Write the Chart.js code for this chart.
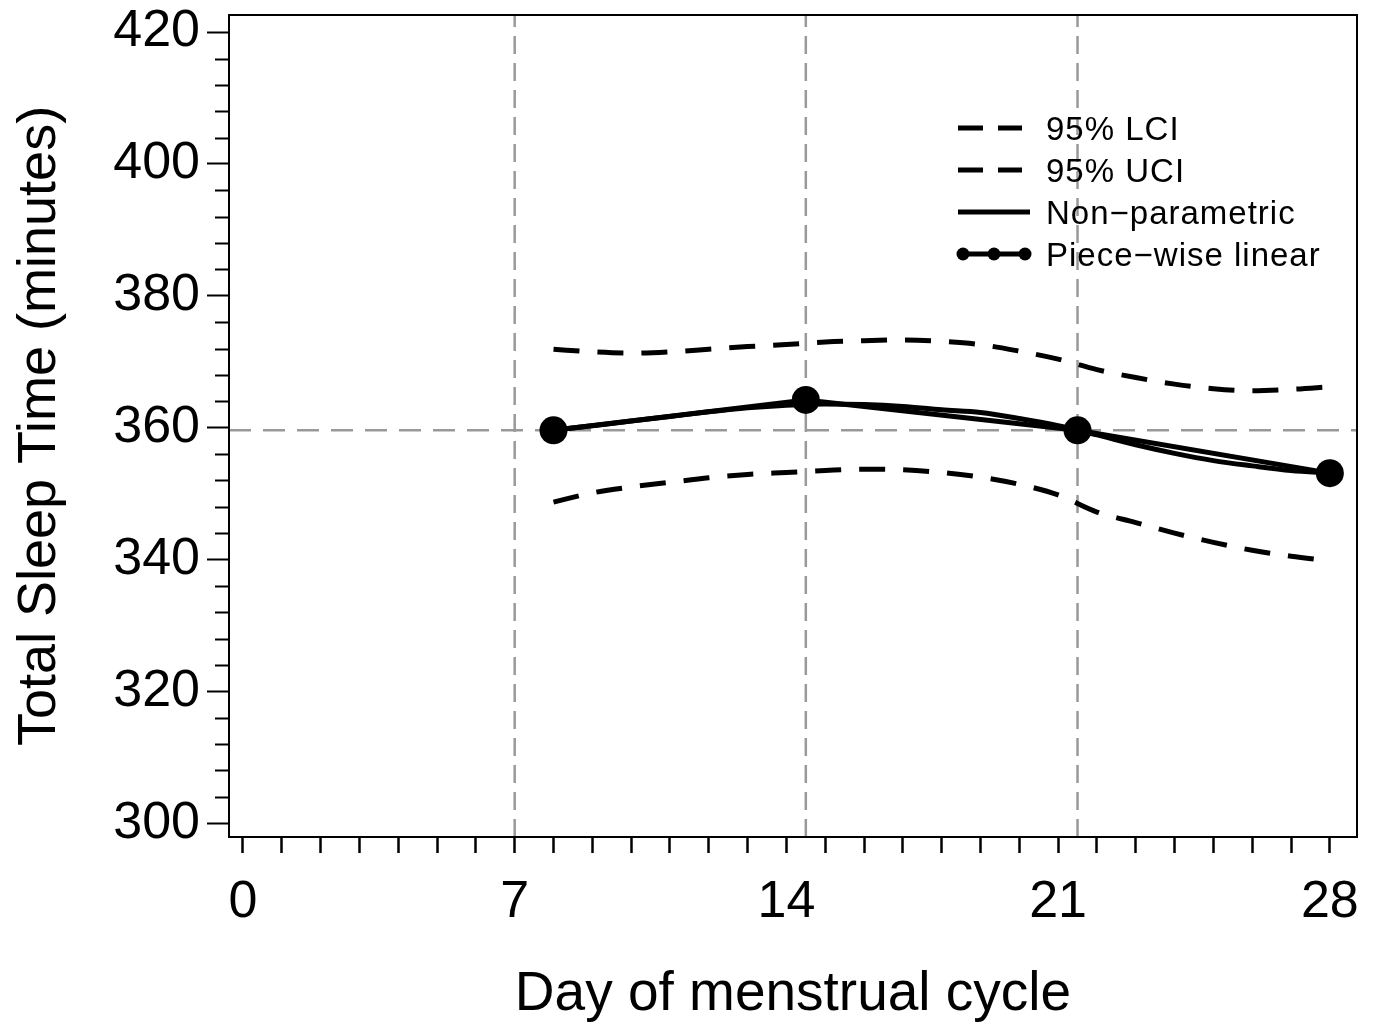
<!DOCTYPE html>
<html>
<head>
<meta charset="utf-8">
<script src="https://cdn.jsdelivr.net/npm/chart.js@4"></script>
<style>
  html, body { margin: 0; padding: 0; background: #fff; }
  #wrap { width: 1376px; height: 1032px; }
</style>
</head>
<body>
<div id="wrap"><canvas id="sleep_chart" width="1376" height="1032"></canvas></div>
<script>
// values
var cycleDays = [8, 9, 10, 11, 12, 13, 14, 15, 16, 17, 18, 19, 20, 21, 22, 23, 24, 25, 26, 27, 28];
var lowerCI = [348.7, 350.1, 351.0, 351.7, 352.4, 352.9, 353.2, 353.5, 353.7, 353.6, 353.2, 352.5, 351.4, 349.8, 347.2, 345.6, 344.0, 342.6, 341.4, 340.5, 339.8];
var upperCI = [371.9, 371.5, 371.3, 371.5, 371.9, 372.3, 372.6, 373.0, 373.2, 373.3, 373.1, 372.6, 371.6, 370.4, 368.8, 367.6, 366.6, 365.9, 365.6, 365.8, 366.2];
var nonParametric = [359.6, 360.3, 361.0, 361.7, 362.4, 363.0, 363.4, 363.6, 363.5, 363.2, 362.7, 362.3, 361.4, 360.3, 358.9, 357.4, 356.1, 355.0, 354.2, 353.5, 353.1];
var knotDays = [8, 14.5, 21.5, 28];
var pieceWise = [359.6, 364.2, 359.6, 353.1];

// reference lines
var refDays = [7, 14.5, 21.5];
var refSleep = 359.6;

// axes
var xMin = -0.36, xMax = 28.7;
var yMin = 297.9, yMax = 422.6;
var xTickValues = [];
for (var d = 0; d <= 28; d++) xTickValues.push(d);
var yTickValues = [300, 320, 340, 360, 380, 400, 420];
var yMinorValues = [];
for (var v = 300; v <= 420; v += 4) yMinorValues.push(v);

var legendLabels = ['95% LCI', '95% UCI', 'Non\u2212parametric', 'Piece\u2212wise linear'];

function toPoints(xs, ys) {
  return xs.map(function (x, i) { return { x: x, y: ys[i] }; });
}

var datasets = [];
datasets.push({ label: legendLabels[3], data: toPoints(knotDays, pieceWise), borderColor: '#000', backgroundColor: '#000',
  borderWidth: 5, pointRadius: 14, pointHoverRadius: 14, pointBackgroundColor: '#000', pointBorderWidth: 0, tension: 0, order: 1 });
datasets.push({ label: legendLabels[2], data: toPoints(cycleDays, nonParametric), borderColor: '#000', borderWidth: 5,
  pointRadius: 0, cubicInterpolationMode: 'monotone', order: 2 });
datasets.push({ label: legendLabels[0], data: toPoints(cycleDays, lowerCI), borderColor: '#000', borderWidth: 5,
  borderDash: [26, 18], pointRadius: 0, cubicInterpolationMode: 'monotone', order: 3 });
datasets.push({ label: legendLabels[1], data: toPoints(cycleDays, upperCI), borderColor: '#000', borderWidth: 5,
  borderDash: [26, 18], pointRadius: 0, cubicInterpolationMode: 'monotone', order: 4 });
refDays.forEach(function (rd) {
  datasets.push({ label: 'ref', data: [{ x: rd, y: yMin }, { x: rd, y: yMax }], borderColor: '#999', borderWidth: 2.5,
    borderDash: [18, 9], pointRadius: 0, order: 10 });
});
datasets.push({ label: 'ref', data: [{ x: xMin, y: refSleep }, { x: xMax, y: refSleep }], borderColor: '#999', borderWidth: 2.5,
  borderDash: [22, 12], pointRadius: 0, order: 10 });

// frame, minor ticks and legend
var framePlugin = {
  id: 'frame',
  afterDraw: function (chart) {
    var ctx = chart.ctx, a = chart.chartArea;
    var ys = chart.scales.y;
    ctx.save();
    ctx.strokeStyle = '#000';
    ctx.lineWidth = 2;
    ctx.strokeRect(a.left, a.top, a.right - a.left, a.bottom - a.top);
    // minor y ticks
    yMinorValues.forEach(function (mv) {
      if (mv % 20 === 0) return;
      var py = Math.round(ys.getPixelForValue(mv)) + 0.5;
      ctx.beginPath();
      ctx.moveTo(a.left - 14, py);
      ctx.lineTo(a.left, py);
      ctx.stroke();
    });

    // legend
    var rows = [128, 170, 212, 254];
    var x0 = 958, x1 = 1030, tx = 1046;
    ctx.lineWidth = 5;
    ctx.lineCap = 'butt';
    ctx.setLineDash([25, 15]);
    [0, 1].forEach(function (i) {
      ctx.beginPath(); ctx.moveTo(x0, rows[i]); ctx.lineTo(x1 - 8, rows[i]); ctx.stroke();
    });
    ctx.setLineDash([]);
    ctx.beginPath(); ctx.moveTo(x0, rows[2]); ctx.lineTo(x1, rows[2]); ctx.stroke();
    ctx.beginPath(); ctx.moveTo(x0 + 5, rows[3]); ctx.lineTo(x1 - 5, rows[3]); ctx.stroke();
    ctx.fillStyle = '#000';
    [x0 + 5, (x0 + x1) / 2, x1 - 5].forEach(function (cx) {
      ctx.beginPath(); ctx.arc(cx, rows[3], 6.5, 0, Math.PI * 2); ctx.fill();
    });
    ctx.font = '33px "Liberation Sans", Arial, sans-serif';
    ctx.letterSpacing = '1px';
    ctx.textBaseline = 'middle';
    ctx.textAlign = 'left';
    legendLabels.forEach(function (t, i) { ctx.fillText(t, tx, rows[i] + 3); });
    ctx.restore();
  }
};

var fontFamily = '"Liberation Sans", Arial, sans-serif';

new Chart(document.getElementById('sleep_chart'), {
  type: 'line',
  data: { datasets: datasets },
  options: {
    responsive: false,
    animation: false,
    layout: { padding: { top: 15, right: 19, left: 0, bottom: 0 } },
    plugins: { legend: { display: false }, tooltip: { enabled: false } },
    scales: {
      x: {
        type: 'linear', min: xMin, max: xMax,
        afterBuildTicks: function (s) { s.ticks = xTickValues.map(function (t) { return { value: t }; }); },
        afterFit: function (s) { s.height = 195; s.paddingLeft = 0; s.paddingRight = 0; },
        grid: { drawOnChartArea: false, drawTicks: true, tickLength: 16, tickWidth: 2.5, tickColor: '#000' },
        border: { display: true, color: '#000', width: 2 },
        ticks: {
          autoSkip: false, maxRotation: 0, padding: 24, color: '#000',
          font: { family: fontFamily, size: 52, lineHeight: 1 },
          callback: function (val) { return val % 7 === 0 ? String(val) : ''; }
        },
        title: { display: true, text: 'Day of menstrual cycle', color: '#000',
          font: { family: fontFamily, size: 55, lineHeight: 1 }, padding: { top: 0, bottom: 10 } }
      },
      y: {
        type: 'linear', min: yMin, max: yMax,
        afterBuildTicks: function (s) { s.ticks = yTickValues.map(function (t) { return { value: t }; }); },
        afterFit: function (s) { s.width = 229; s.paddingTop = 0; s.paddingBottom = 0; },
        grid: { drawOnChartArea: false, drawTicks: true, tickLength: 22, tickWidth: 2, tickColor: '#000' },
        border: { display: true, color: '#000', width: 2 },
        ticks: { padding: 7, color: '#000', font: { family: fontFamily, size: 52, lineHeight: 1 } },
        title: { display: true, text: 'Total Sleep Time (minutes)', color: '#000',
          font: { family: fontFamily, size: 54, lineHeight: 1 }, padding: { top: 13, bottom: 0 } }
      }
    }
  },
  plugins: [framePlugin]
});
</script>
</body>
</html>
